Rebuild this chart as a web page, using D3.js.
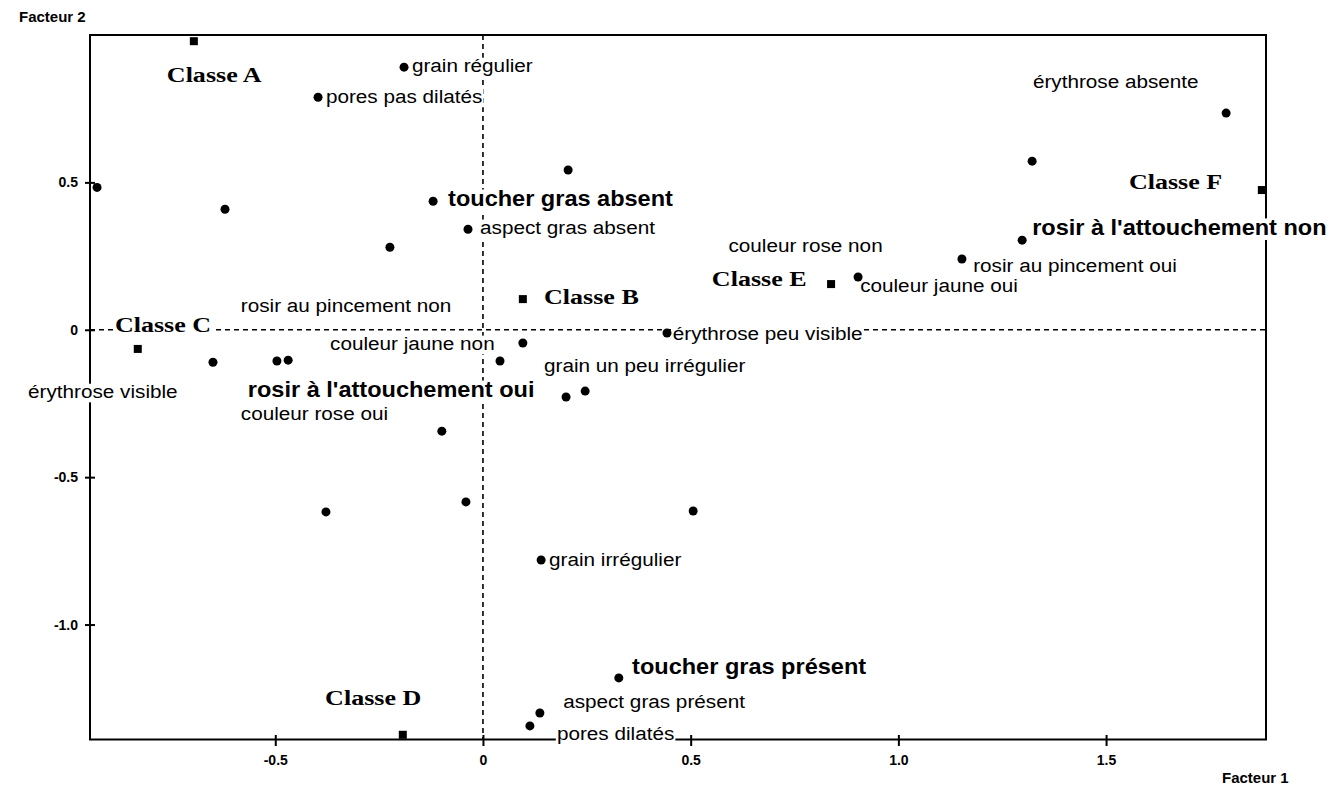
<!DOCTYPE html>
<html>
<head>
<meta charset="utf-8">
<script src="https://cdn.jsdelivr.net/npm/d3@7"></script>
<style>
  html, body { margin: 0; padding: 0; background: #fff; }
  svg { display: block; }
</style>
</head>
<body>
<svg id="chart" width="1337" height="790"></svg>
<script>
// ---------- DATA ----------
// Class centroids (squares)
const classNames = ["Classe A", "Classe B", "Classe C", "Classe D", "Classe E", "Classe F"];
const classX = [-0.696, 0.096, -0.831, -0.193, 0.838, 1.875];
const classY = [0.979, 0.104, -0.065, -1.374, 0.155, 0.474];

// Modalities (circles)
const pointX = [-0.929, -0.621, -0.224, -0.120, -0.190, -0.397, 0.205, -0.036,
                1.322, 1.789, 1.298, 1.153, 0.903, 0.443, 0.096, 0.041,
                0.200, 0.246, -0.099, -0.041, 0.506, -0.378, 0.140, 0.327,
                0.137, 0.113, -0.650, -0.496, -0.469];
const pointY = [0.483, 0.409, 0.280, 0.436, 0.891, 0.789, 0.542, 0.341,
                0.572, 0.735, 0.304, 0.240, 0.179, -0.011, -0.045, -0.106,
                -0.228, -0.208, -0.344, -0.584, -0.615, -0.618, -0.781, -1.181,
                -1.300, -1.344, -0.110, -0.106, -0.103];

// Text annotations (anchor = start of baseline, in factor units)
const labelText = ["Classe A", "Classe B", "Classe C", "Classe D", "Classe E", "Classe F",
  "grain régulier", "pores pas dilatés", "aspect gras absent", "couleur rose non",
  "rosir au pincement non", "couleur jaune non", "érythrose visible", "couleur rose oui",
  "érythrose peu visible", "grain un peu irrégulier", "grain irrégulier", "aspect gras présent",
  "pores dilatés", "érythrose absente", "rosir au pincement oui", "couleur jaune oui",
  "toucher gras absent", "rosir à l'attouchement oui", "toucher gras présent", "rosir à l'attouchement non"];
const labelX = [-0.761, 0.147, -0.886, -0.380, 0.551, 1.555,
  -0.171, -0.378, -0.007, 0.591,
  -0.583, -0.368, -1.095, -0.583,
  0.457, 0.147, 0.159, 0.193,
  0.178, 1.324, 1.180, 0.908,
  -0.084, -0.566, 0.359, 1.322];
const labelY = [0.840, 0.087, -0.008, -1.273, 0.148, 0.477,
  0.874, 0.769, 0.325, 0.263,
  0.060, -0.069, -0.232, -0.306,
  -0.035, -0.143, -0.801, -1.283,
  -1.391, 0.819, 0.196, 0.128,
  0.419, -0.229, -1.168, 0.321];
const labelKind = ["class", "class", "class", "class", "class", "class",
  "normal", "normal", "normal", "normal",
  "normal", "normal", "normal", "normal",
  "normal", "normal", "normal", "normal",
  "normal", "normal", "normal", "normal",
  "bold", "bold", "bold", "bold"];

const xTicks = [-0.5, 0, 0.5, 1.0, 1.5];
const xTickLabels = ["-0.5", "0", "0.5", "1.0", "1.5"];
const yTicks = [-1.0, -0.5, 0, 0.5];
const yTickLabels = ["-1.0", "-0.5", "0", "0.5"];
const xAxisTitle = "Facteur 1";
const yAxisTitle = "Facteur 2";

// ---------- LAYOUT ----------
(function () {
const svg = d3.select("#chart");
const pL = 90, pR = 1266, pT = 35, pB = 739.5;
const x = d3.scaleLinear().domain([-0.946, 1.885]).range([pL, pR]);
const y = d3.scaleLinear().domain([-1.39, 1.0]).range([pB, pT]);

const styles = {
  class:  { family: "'Liberation Serif', 'Times New Roman', serif", size: 21, weight: "bold", sx: 1.24 },
  normal: { family: "'Liberation Sans', Arial, sans-serif", size: 19, weight: "normal", sx: 1.09 },
  bold:   { family: "'Liberation Sans', Arial, sans-serif", size: 22, weight: "bold", sx: 1.07 }
};

// zero lines (dashed)
svg.append("line")
  .attr("x1", x(0)).attr("x2", x(0)).attr("y1", pT).attr("y2", pB)
  .attr("stroke", "#000").attr("stroke-width", 1.6).attr("stroke-dasharray", "5,4");
svg.append("line")
  .attr("x1", pL).attr("x2", pR).attr("y1", y(0)).attr("y2", y(0))
  .attr("stroke", "#000").attr("stroke-width", 1.6).attr("stroke-dasharray", "5,4");

// frame
svg.append("rect")
  .attr("x", pL).attr("y", pT).attr("width", pR - pL).attr("height", pB - pT)
  .attr("fill", "none").attr("stroke", "#000").attr("stroke-width", 2);

// axes using d3 axis generators
const xAxis = d3.axisBottom(x).tickValues(xTicks)
  .tickFormat((d, i) => xTickLabels[i]).tickSizeInner(6.5).tickSizeOuter(0).tickPadding(9);
const gx = svg.append("g").attr("transform", `translate(0,${pB})`).call(xAxis);
gx.select(".domain").remove();
gx.selectAll(".tick line").attr("y1", -4.5).attr("stroke", "#000").attr("stroke-width", 2);
gx.selectAll(".tick text")
  .attr("font-family", "'Liberation Sans', Arial, sans-serif")
  .attr("font-weight", "bold").attr("font-size", 14).attr("fill", "#000");

const yAxis = d3.axisLeft(y).tickValues(yTicks)
  .tickFormat((d, i) => yTickLabels[i]).tickSizeInner(5).tickSizeOuter(0).tickPadding(7);
const gy = svg.append("g").attr("transform", `translate(${pL},0)`).call(yAxis);
gy.select(".domain").remove();
gy.selectAll(".tick line").attr("x1", 5).attr("stroke", "#000").attr("stroke-width", 2);
gy.selectAll(".tick text")
  .attr("font-family", "'Liberation Sans', Arial, sans-serif")
  .attr("font-weight", "bold").attr("font-size", 14).attr("fill", "#000");

// axis titles
svg.append("text").attr("x", 19).attr("y", 22).text(yAxisTitle)
  .attr("font-family", "'Liberation Sans', Arial, sans-serif").attr("font-weight", "bold")
  .attr("font-size", 15).attr("fill", "#000");
svg.append("text").attr("x", 1222).attr("y", 783).text(xAxisTitle)
  .attr("font-family", "'Liberation Sans', Arial, sans-serif").attr("font-weight", "bold")
  .attr("font-size", 15).attr("fill", "#000");

// label groups (background first)
const labelData = labelText.map((t, i) => ({ t, x: labelX[i], y: labelY[i], k: labelKind[i] }));
const lg = svg.append("g").selectAll("g").data(labelData).join("g")
  .attr("transform", d => `translate(${x(d.x)},${y(d.y)}) scale(${styles[d.k].sx},1)`);
const bgRects = lg.append("rect").attr("fill", "#fff");

// points
svg.append("g").selectAll("rect").data(classX.map((v, i) => ({ x: v, y: classY[i], n: classNames[i] })))
  .join("rect")
  .attr("x", d => x(d.x) - 4).attr("y", d => y(d.y) - 4)
  .attr("width", 8).attr("height", 8).attr("fill", "#000");

svg.append("g").selectAll("circle").data(pointX.map((v, i) => ({ x: v, y: pointY[i] })))
  .join("circle")
  .attr("cx", d => x(d.x)).attr("cy", d => y(d.y)).attr("r", 4.5).attr("fill", "#000");

// label texts on top
const texts = svg.append("g").selectAll("g").data(labelData).join("g")
  .attr("transform", d => `translate(${x(d.x)},${y(d.y)}) scale(${styles[d.k].sx},1)`)
  .append("text")
  .attr("font-family", d => styles[d.k].family)
  .attr("font-size", d => styles[d.k].size)
  .attr("font-weight", d => styles[d.k].weight)
  .attr("fill", "#000")
  .text(d => d.t);

texts.each(function (d, i) {
  const w = this.getComputedTextLength();
  const fs = styles[d.k].size;
  d3.select(bgRects.nodes()[i])
    .attr("x", -1).attr("y", -0.76 * fs).attr("width", w + 2).attr("height", 0.98 * fs);
});
})();
</script>
</body>
</html>
